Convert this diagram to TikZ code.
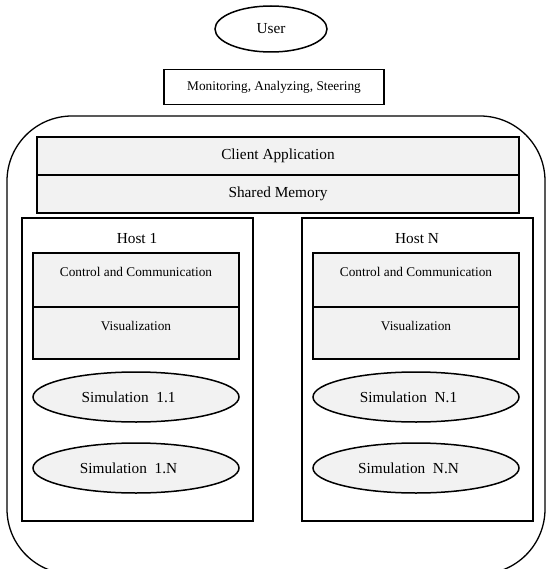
\documentclass[tikz,border=0pt]{standalone}
\usepackage{fontspec}
\setmainfont{Liberation Serif}
\usetikzlibrary{shapes.geometric}
\definecolor{layergray}{HTML}{F2F2F2}
\tikzset{
  big/.style={font=\fontsize{15.3}{18}\selectfont},
  sml/.style={font=\fontsize{13.3}{16}\selectfont},
  layerbox/.style={draw, line width=1.5pt, fill=layergray, rectangle, inner sep=0pt},
  simnode/.style={draw, line width=1.5pt, fill=layergray, ellipse, inner sep=0pt,
    minimum width=206pt, minimum height=50pt, big},
  hostbox/.style={draw, line width=1.5pt, rectangle, inner sep=0pt,
    minimum width=231pt, minimum height=303pt}
}
\newcommand{\simtext}[1]{Simulation\ \ #1\hspace*{15pt}}
\begin{document}
\begin{tikzpicture}[x=1pt, y=-1pt]
  \useasboundingbox (0,0) rectangle (546,569);
  \clip (0,0) rectangle (546,569);
  \draw [line width=1.3pt, rounded corners=65pt] (7,116) rectangle (545,574);

  \node [draw, ellipse, line width=1.5pt, inner sep=0pt, minimum width=112pt, minimum height=46pt, big] (user) at (271,29) {User};
  \node [draw, rectangle, line width=1.5pt, inner sep=0pt, minimum width=220pt, minimum height=35pt, sml] (mon) at (274,87) {Monitoring, Analyzing, Steering};

  \node [layerbox, minimum width=482pt, minimum height=38pt, big] (client) at (278,156) {Client Application};
  \node [layerbox, minimum width=482pt, minimum height=38pt, big] (shared) at (278,194) {Shared Memory};

  \node [hostbox] (host1) at (137.5,369.5) {};
  \node [hostbox] (hostN) at (417.5,369.5) {};
  \node [big] (h1) at (137,239) {Host 1};
  \node [big] (hN) at (417,239) {Host N};

  \node [layerbox, minimum width=206pt, minimum height=54pt] (ctrl1) at (136,280) {};
  \node [layerbox, minimum width=206pt, minimum height=52pt] (vis1) at (136,333) {};
  \node [layerbox, minimum width=206pt, minimum height=54pt] (ctrlN) at (416,280) {};
  \node [layerbox, minimum width=206pt, minimum height=52pt] (visN) at (416,333) {};
  \node [sml] (c1) at (136,272) {Control and Communication};
  \node [sml] (v1) at (136,326) {Visualization};
  \node [sml] (cN) at (416,272) {Control and Communication};
  \node [sml] (vN) at (416,326) {Visualization};

  \node [simnode] (s11) at (136,397) {\simtext{1.1}};
  \node [simnode] (s1N) at (136,468) {\simtext{1.N}};
  \node [simnode] (sN1) at (416,397) {\simtext{N.1}};
  \node [simnode] (sNN) at (416,468) {\simtext{N.N}};
\end{tikzpicture}
\end{document}
